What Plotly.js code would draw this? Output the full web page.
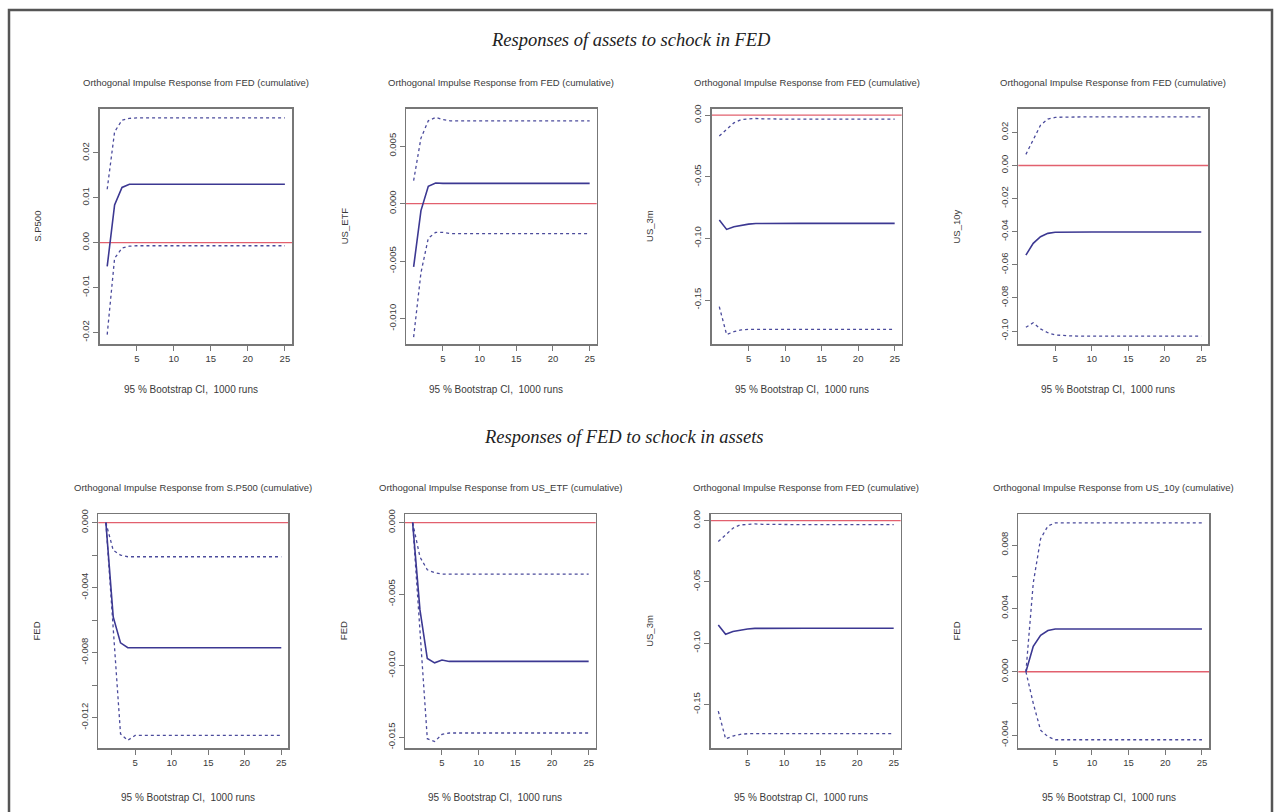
<!DOCTYPE html>
<html>
<head>
<meta charset="utf-8">
<script src="https://cdn.plot.ly/plotly-3.0.1.min.js"></script>
<style>html,body{margin:0;padding:0;background:#fff;}#chart{width:1276px;height:812px;}</style>
</head>
<body>
<div id="chart"></div>
<script>
// ---------- DATA ----------
const horizon = [1,2,3,4,5,6,7,8,9,10,11,12,13,14,15,16,17,18,19,20,21,22,23,24,25];

const sectionTitles = ["Responses of assets to schock in FED", "Responses of FED to schock in assets"];
const panelTitles = [
  "Orthogonal Impulse Response from FED (cumulative)",
  "Orthogonal Impulse Response from FED (cumulative)",
  "Orthogonal Impulse Response from FED (cumulative)",
  "Orthogonal Impulse Response from FED (cumulative)",
  "Orthogonal Impulse Response from S.P500 (cumulative)",
  "Orthogonal Impulse Response from US_ETF (cumulative)",
  "Orthogonal Impulse Response from FED (cumulative)",
  "Orthogonal Impulse Response from US_10y (cumulative)"
];
const responseNames = ["S.P500", "US_ETF", "US_3m", "US_10y", "FED", "FED", "US_3m", "FED"];
const ciLabel = "95 % Bootstrap CI,  1000 runs";

// Panel 1: S.P500 <- FED
const sp500_irf   = [-0.0053,0.0084,0.0123,0.0130,0.0130,0.0130,0.0130,0.0130,0.0130,0.0130,0.0130,0.0130,0.0130,0.0130,0.0130,0.0130,0.0130,0.0130,0.0130,0.0130,0.0130,0.0130,0.0130,0.0130,0.0130];
const sp500_upper = [0.0119,0.0247,0.0273,0.0277,0.0278,0.0278,0.0278,0.0278,0.0278,0.0278,0.0278,0.0278,0.0278,0.0278,0.0278,0.0278,0.0278,0.0278,0.0278,0.0278,0.0278,0.0278,0.0278,0.0278,0.0278];
const sp500_lower = [-0.0205,-0.0035,-0.0012,-0.0008,-0.0007,-0.0007,-0.0007,-0.0007,-0.0007,-0.0007,-0.0007,-0.0007,-0.0007,-0.0007,-0.0007,-0.0007,-0.0007,-0.0007,-0.0007,-0.0007,-0.0007,-0.0007,-0.0007,-0.0007,-0.0007];

// Panel 2: US_ETF <- FED
const etf_irf   = [-0.0055,-0.0006,0.0015,0.0018,0.00176,0.00176,0.00176,0.00176,0.00176,0.00176,0.00176,0.00176,0.00176,0.00176,0.00176,0.00176,0.00176,0.00176,0.00176,0.00176,0.00176,0.00176,0.00176,0.00176,0.00176];
const etf_upper = [0.0020,0.0057,0.0072,0.0075,0.0073,0.0072,0.0072,0.0072,0.0072,0.0072,0.0072,0.0072,0.0072,0.0072,0.0072,0.0072,0.0072,0.0072,0.0072,0.0072,0.0072,0.0072,0.0072,0.0072,0.0072];
const etf_lower = [-0.0116,-0.0060,-0.0030,-0.0025,-0.0025,-0.0026,-0.0026,-0.0026,-0.0026,-0.0026,-0.0026,-0.0026,-0.0026,-0.0026,-0.0026,-0.0026,-0.0026,-0.0026,-0.0026,-0.0026,-0.0026,-0.0026,-0.0026,-0.0026,-0.0026];

// Panel 3 and 7: US_3m <- FED
const us3m_irf   = [-0.0851,-0.0927,-0.0905,-0.0892,-0.0884,-0.0879,-0.0878,-0.0878,-0.0878,-0.0878,-0.0878,-0.0878,-0.0878,-0.0878,-0.0878,-0.0878,-0.0878,-0.0878,-0.0878,-0.0878,-0.0878,-0.0878,-0.0878,-0.0878,-0.0878];
const us3m_upper = [-0.0170,-0.0116,-0.0062,-0.0035,-0.0030,-0.0027,-0.0030,-0.0032,-0.0032,-0.0032,-0.0032,-0.0032,-0.0032,-0.0032,-0.0032,-0.0032,-0.0032,-0.0032,-0.0032,-0.0032,-0.0032,-0.0032,-0.0032,-0.0032,-0.0032];
const us3m_lower = [-0.1554,-0.1780,-0.1757,-0.1743,-0.1738,-0.1738,-0.1738,-0.1738,-0.1738,-0.1738,-0.1738,-0.1738,-0.1738,-0.1738,-0.1738,-0.1738,-0.1738,-0.1738,-0.1738,-0.1738,-0.1738,-0.1738,-0.1738,-0.1738,-0.1738];

// Panel 4: US_10y <- FED
const us10y_irf   = [-0.0541,-0.0470,-0.0430,-0.0410,-0.0403,-0.0402,-0.0402,-0.0402,-0.0402,-0.0402,-0.0402,-0.0402,-0.0402,-0.0402,-0.0402,-0.0402,-0.0402,-0.0402,-0.0402,-0.0402,-0.0402,-0.0402,-0.0402,-0.0402,-0.0402];
const us10y_upper = [0.0067,0.0158,0.0243,0.0280,0.0290,0.0292,0.0293,0.0294,0.0294,0.0294,0.0294,0.0294,0.0294,0.0294,0.0294,0.0294,0.0294,0.0294,0.0294,0.0294,0.0294,0.0294,0.0294,0.0294,0.0294];
const us10y_lower = [-0.0977,-0.0950,-0.0987,-0.1010,-0.1023,-0.1027,-0.1029,-0.1030,-0.1031,-0.1031,-0.1031,-0.1031,-0.1031,-0.1031,-0.1031,-0.1031,-0.1031,-0.1031,-0.1031,-0.1031,-0.1031,-0.1031,-0.1031,-0.1031,-0.1031];

// Panel 5: FED <- S.P500
const fedsp_irf   = [0,-0.0058,-0.0074,-0.0077,-0.0077,-0.0077,-0.0077,-0.0077,-0.0077,-0.0077,-0.0077,-0.0077,-0.0077,-0.0077,-0.0077,-0.0077,-0.0077,-0.0077,-0.0077,-0.0077,-0.0077,-0.0077,-0.0077,-0.0077,-0.0077];
const fedsp_upper = [0,-0.0017,-0.0020,-0.0021,-0.0021,-0.0021,-0.0021,-0.0021,-0.0021,-0.0021,-0.0021,-0.0021,-0.0021,-0.0021,-0.0021,-0.0021,-0.0021,-0.0021,-0.0021,-0.0021,-0.0021,-0.0021,-0.0021,-0.0021,-0.0021];
const fedsp_lower = [0,-0.0066,-0.0130,-0.0134,-0.0131,-0.0131,-0.0131,-0.0131,-0.0131,-0.0131,-0.0131,-0.0131,-0.0131,-0.0131,-0.0131,-0.0131,-0.0131,-0.0131,-0.0131,-0.0131,-0.0131,-0.0131,-0.0131,-0.0131,-0.0131];

// Panel 6: FED <- US_ETF
const fedetf_irf   = [0,-0.0061,-0.0095,-0.0098,-0.0096,-0.0097,-0.0097,-0.0097,-0.0097,-0.0097,-0.0097,-0.0097,-0.0097,-0.0097,-0.0097,-0.0097,-0.0097,-0.0097,-0.0097,-0.0097,-0.0097,-0.0097,-0.0097,-0.0097,-0.0097];
const fedetf_upper = [0,-0.0024,-0.0033,-0.0035,-0.0036,-0.0036,-0.0036,-0.0036,-0.0036,-0.0036,-0.0036,-0.0036,-0.0036,-0.0036,-0.0036,-0.0036,-0.0036,-0.0036,-0.0036,-0.0036,-0.0036,-0.0036,-0.0036,-0.0036,-0.0036];
const fedetf_lower = [0,-0.0075,-0.0151,-0.0153,-0.0148,-0.0147,-0.0147,-0.0147,-0.0147,-0.0147,-0.0147,-0.0147,-0.0147,-0.0147,-0.0147,-0.0147,-0.0147,-0.0147,-0.0147,-0.0147,-0.0147,-0.0147,-0.0147,-0.0147,-0.0147];

// Panel 8: FED <- US_10y
const fed10y_irf   = [0,0.0016,0.0023,0.0026,0.0027,0.0027,0.0027,0.0027,0.0027,0.0027,0.0027,0.0027,0.0027,0.0027,0.0027,0.0027,0.0027,0.0027,0.0027,0.0027,0.0027,0.0027,0.0027,0.0027,0.0027];
const fed10y_upper = [0,0.0056,0.0084,0.0092,0.0094,0.0094,0.0094,0.0094,0.0094,0.0094,0.0094,0.0094,0.0094,0.0094,0.0094,0.0094,0.0094,0.0094,0.0094,0.0094,0.0094,0.0094,0.0094,0.0094,0.0094];
const fed10y_lower = [0,-0.0020,-0.0037,-0.0041,-0.0043,-0.0043,-0.0043,-0.0043,-0.0043,-0.0043,-0.0043,-0.0043,-0.0043,-0.0043,-0.0043,-0.0043,-0.0043,-0.0043,-0.0043,-0.0043,-0.0043,-0.0043,-0.0043,-0.0043,-0.0043];

const xTickVals = [5,10,15,20,25];
const yTickVals = [
  [-0.02,-0.01,0,0.01,0.02],
  [-0.010,-0.005,0,0.005],
  [-0.15,-0.10,-0.05,0],
  [-0.10,-0.08,-0.06,-0.04,-0.02,0,0.02],
  [-0.012,-0.010,-0.008,-0.006,-0.004,-0.002,0],
  [-0.015,-0.010,-0.005,0],
  [-0.15,-0.10,-0.05,0],
  [-0.004,-0.002,0,0.002,0.004,0.006,0.008]
];
const yTickText = [
  ["-0.02","-0.01","0.00","0.01","0.02"],
  ["-0.010","-0.005","0.000","0.005"],
  ["-0.15","-0.10","-0.05","0.00"],
  ["-0.10","-0.08","-0.06","-0.04","-0.02","0.00","0.02"],
  ["-0.012","","-0.008","","-0.004","","0.000"],
  ["-0.015","-0.010","-0.005","0.000"],
  ["-0.15","-0.10","-0.05","0.00"],
  ["-0.004","","0.000","","0.004","","0.008"]
];

// ---------- LAYOUT GEOMETRY (pixels) ----------
const W = 1276, H = 812;
const panels = [
  {irf: sp500_irf,  up: sp500_upper,  lo: sp500_lower,  yr: [-0.0226, 0.0299], px: [99.5, 292],   py: [108.5, 344]},
  {irf: etf_irf,    up: etf_upper,    lo: etf_lower,    yr: [-0.0122, 0.00827], px: [406, 596.7],  py: [108.5, 344]},
  {irf: us3m_irf,   up: us3m_upper,   lo: us3m_lower,   yr: [-0.1857, 0.0054], px: [711.7, 901.7], py: [108.5, 344]},
  {irf: us10y_irf,  up: us10y_upper,  lo: us10y_lower,  yr: [-0.1078, 0.0344], px: [1018.3, 1208.3], py: [108.5, 344]},
  {irf: fedsp_irf,  up: fedsp_upper,  lo: fedsp_lower,  yr: [-0.01389, 0.00053], px: [98.3, 288.3], py: [514, 748.3]},
  {irf: fedetf_irf, up: fedetf_upper, lo: fedetf_lower, yr: [-0.01577, 0.0006], px: [405, 595.7],  py: [514, 748.3]},
  {irf: us3m_irf,   up: us3m_upper,   lo: us3m_lower,   yr: [-0.1857, 0.0054], px: [710.7, 900.7], py: [514, 748.3]},
  {irf: fed10y_irf, up: fed10y_upper, lo: fed10y_lower, yr: [-0.00484, 0.00996], px: [1018.3, 1209], py: [514, 748.3]}
];

const mainColor = "#3c3892";
const ciColor = "#4b4b9c";
const zeroColor = "#e2606e";
const axisColor = "#777777";
const textColor = "#3a3a3a";
const sans = "Liberation Sans, Arial, sans-serif";

const traces = [];
const layout = {
  width: W, height: H, autosize: false,
  margin: {l: 0, r: 0, t: 0, b: 0},
  paper_bgcolor: "#ffffff", plot_bgcolor: "#ffffff",
  showlegend: false,
  annotations: [], shapes: []
};

const fx = p => p / W;
const fy = p => 1 - p / H;

panels.forEach((p, i) => {
  const k = i + 1;
  const xa = "x" + (k === 1 ? "" : k), ya = "y" + (k === 1 ? "" : k);
  const xk = "xaxis" + (k === 1 ? "" : k), yk = "yaxis" + (k === 1 ? "" : k);
  traces.push({x: horizon, y: p.up, xaxis: xa, yaxis: ya, mode: "lines", line: {color: ciColor, width: 1.3, dash: "3px,3px"}, hoverinfo: "skip"});
  traces.push({x: horizon, y: p.lo, xaxis: xa, yaxis: ya, mode: "lines", line: {color: ciColor, width: 1.3, dash: "3px,3px"}, hoverinfo: "skip"});
  traces.push({x: horizon, y: p.irf, xaxis: xa, yaxis: ya, mode: "lines", line: {color: mainColor, width: 1.6}, hoverinfo: "skip"});

  layout[xk] = {
    domain: [fx(p.px[0]), fx(p.px[1])], anchor: ya,
    range: [-0.04, 25.96], tickvals: xTickVals, ticktext: xTickVals.map(String),
    ticks: "outside", ticklen: 5, tickcolor: axisColor, tickwidth: 1,
    showline: true, linecolor: axisColor, linewidth: 1.5, mirror: true,
    showgrid: false, zeroline: false,
    tickfont: {family: sans, size: 9.5, color: textColor}
  };
  layout[yk] = {
    domain: [fy(p.py[1]), fy(p.py[0])], anchor: xa,
    range: p.yr, tickvals: yTickVals[i], ticktext: yTickText[i], tickangle: -90,
    ticks: "outside", ticklen: 5, tickcolor: axisColor, tickwidth: 1,
    showline: true, linecolor: axisColor, linewidth: 1.5, mirror: true,
    showgrid: false, zeroline: false,
    tickfont: {family: sans, size: 9.5, color: textColor}
  };
  // red zero reference line
  layout.shapes.push({type: "line", xref: xa + " domain", yref: ya, x0: 0, x1: 1, y0: 0, y1: 0, line: {color: zeroColor, width: 1.4}, layer: "below"});

  const cx = (p.px[0] + p.px[1]) / 2;
  const titleY = i < 4 ? 83 : 487;
  const subY = i < 4 ? 389 : 797;
  layout.annotations.push({xref: "paper", yref: "paper", x: fx(cx), y: fy(titleY), text: panelTitles[i], showarrow: false, xanchor: "center", yanchor: "middle", font: {family: sans, size: 9.5, color: textColor}});
  layout.annotations.push({xref: "paper", yref: "paper", x: fx(cx - 5), y: fy(subY), text: ciLabel, showarrow: false, xanchor: "center", yanchor: "middle", font: {family: sans, size: 10, color: textColor}});
  layout.annotations.push({xref: "paper", yref: "paper", x: fx(p.px[0] - 62), y: fy((p.py[0] + p.py[1]) / 2), text: responseNames[i], textangle: -90, showarrow: false, xanchor: "center", yanchor: "middle", font: {family: sans, size: 9.5, color: textColor}});
});

// section titles
layout.annotations.push({xref: "paper", yref: "paper", x: fx(631), y: fy(40), text: "<i>" + sectionTitles[0] + "</i>", showarrow: false, xanchor: "center", yanchor: "middle", font: {family: "Liberation Serif, Times New Roman, serif", size: 18.5, color: "#222222"}});
layout.annotations.push({xref: "paper", yref: "paper", x: fx(624), y: fy(437), text: "<i>" + sectionTitles[1] + "</i>", showarrow: false, xanchor: "center", yanchor: "middle", font: {family: "Liberation Serif, Times New Roman, serif", size: 18.5, color: "#222222"}});

// outer frame
layout.shapes.push({type: "rect", xref: "paper", yref: "paper", x0: fx(9), x1: fx(1272), y0: -0.02, y1: fy(10), line: {color: "#555555", width: 2.5}, fillcolor: "rgba(0,0,0,0)"});

Plotly.newPlot("chart", traces, layout, {staticPlot: true, displayModeBar: false});
</script>
</body>
</html>
